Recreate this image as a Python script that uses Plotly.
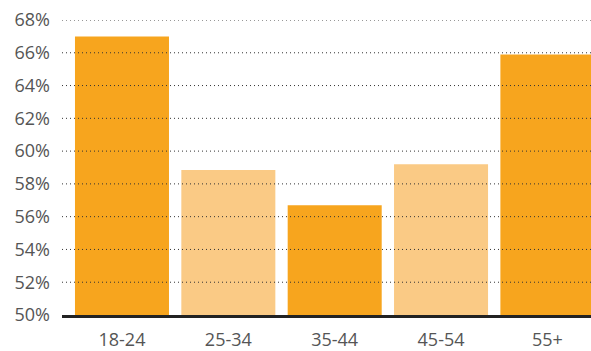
import plotly.graph_objects as go

categories = ["18-24", "25-34", "35-44", "45-54", "55+"]
values = [67.0, 58.85, 56.7, 59.2, 65.9]
colors = ["#F7A51E", "#FACA85", "#F7A51E", "#FACA85", "#F7A51E"]
y_ticks = [50, 52, 54, 56, 58, 60, 62, 64, 66, 68]

fig = go.Figure(go.Bar(
    x=categories, y=values, marker=dict(color=colors, line=dict(width=0)),
    width=0.884,
))

# dotted gridlines drawn above the bars, as in the reference
for t in y_ticks[1:]:
    fig.add_shape(type="line", xref="paper", yref="y", x0=0, x1=1, y0=t, y1=t,
                  line=dict(color="#333333", width=1, dash="1px,3px"), layer="above")

fig.update_layout(
    width=591, height=351,
    margin=dict(l=62, r=0, t=20, b=36),
    paper_bgcolor="white", plot_bgcolor="white",
    font=dict(family="Open Sans", size=18, color="#555555"),
    showlegend=False,
    xaxis=dict(
        range=[-0.564, 4.41], showgrid=False, showline=True,
        linecolor="#222222", linewidth=2.5, ticks="", ticklabelstandoff=7,
        tickfont=dict(size=18, color="#555555"), layer="above traces",
        automargin=False,
    ),
    yaxis=dict(
        range=[50, 68], tickvals=y_ticks, ticktext=[f"{v}%" for v in y_ticks],
        showgrid=False, zeroline=False, showline=False, ticks="", ticklabelstandoff=11,
        tickfont=dict(size=18, color="#555555"), layer="above traces",
        automargin=False,
    ),
)

fig.write_html("out.html")
